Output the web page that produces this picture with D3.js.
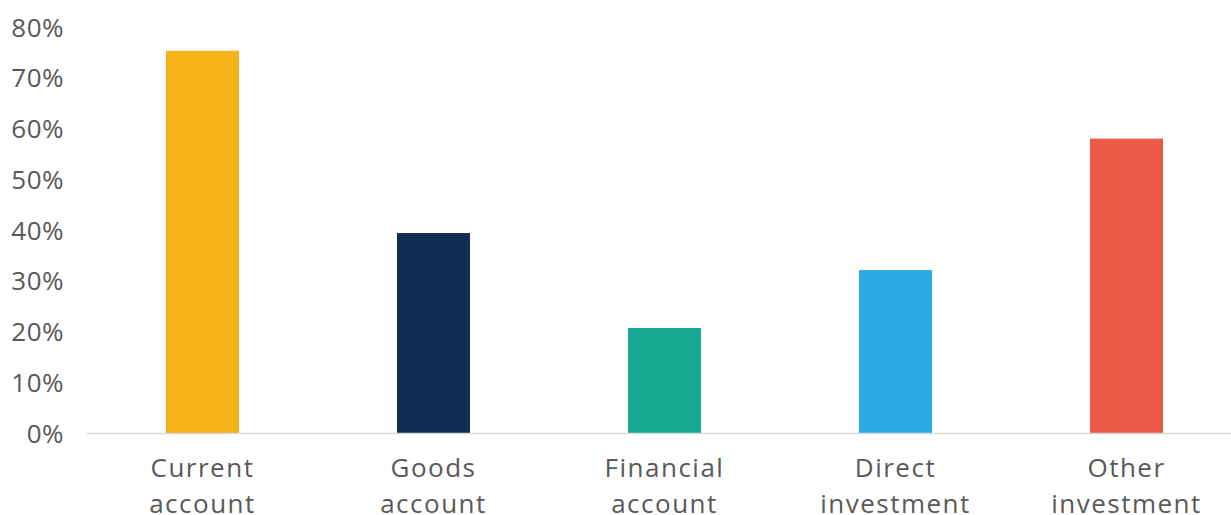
<!DOCTYPE html>
<html>
<head>
<meta charset="utf-8">
<script src="https://cdn.jsdelivr.net/npm/d3@7"></script>
<style>
  html, body { margin: 0; padding: 0; background: #fff; }
  svg { display: block; }
  text { font-family: "Open Sans", "Liberation Sans", sans-serif; fill: #595959; }
</style>
</head>
<body>
<svg id="chart" width="1231" height="515"></svg>
<script>
// Share of balance-of-payments items, in percent
const categories = [["Current", "account"], ["Goods", "account"], ["Financial", "account"], ["Direct", "investment"], ["Other", "investment"]];
const values = [75.3, 39.4, 20.7, 32.1, 58.0];
const colors = ["#F5B118", "#0F2F52", "#17A994", "#29ABE2", "#EB5A47"];
const yTicks = [0, 10, 20, 30, 40, 50, 60, 70, 80];

const svg = d3.select("#chart");
const W = 1231;

const x = d3.scaleBand()
  .domain(d3.range(values.length))
  .range([87, 1242])
  .paddingInner(0.684)
  .paddingOuter(0.342);

const y = d3.scaleLinear().domain([0, 80]).range([433, 27]);

// y tick labels
const yAxis = d3.axisLeft(y)
  .tickValues(yTicks)
  .tickFormat(d => d + "%")
  .tickSize(0)
  .tickPadding(0);
const gy = svg.append("g").attr("transform", "translate(64,0)").call(yAxis);
gy.select(".domain").remove();
gy.selectAll("text")
  .style("font-size", "26px")
  .style("font-family", "\"Open Sans\", sans-serif")
  .style("letter-spacing", "0.5px")
  .attr("fill", "#595959")
  .attr("dy", "0.35em");

// bars
svg.append("g").selectAll("rect")
  .data(values)
  .join("rect")
  .attr("x", (d, i) => x(i))
  .attr("width", x.bandwidth())
  .attr("y", d => y(d))
  .attr("height", d => y(0) - y(d))
  .attr("fill", (d, i) => colors[i]);

// baseline
svg.append("line")
  .attr("x1", 87).attr("x2", W)
  .attr("y1", y(0) + 0.5).attr("y2", y(0) + 0.5)
  .attr("stroke", "#D9D9D9").attr("stroke-width", 1.5);

// category labels, two lines each
const labels = svg.append("g").selectAll("text")
  .data(categories)
  .join("text")
  .attr("text-anchor", "middle")
  .attr("x", (d, i) => x(i) + x.bandwidth() / 2)
  .attr("y", 477)
  .style("font-size", "26px")
  .style("letter-spacing", "1.5px");
labels.selectAll("tspan")
  .data(d => d)
  .join("tspan")
  .attr("x", function () { return this.parentNode.getAttribute("x"); })
  .attr("dy", (d, i) => i === 0 ? 0 : 36)
  .text(d => d);
</script>
</body>
</html>
